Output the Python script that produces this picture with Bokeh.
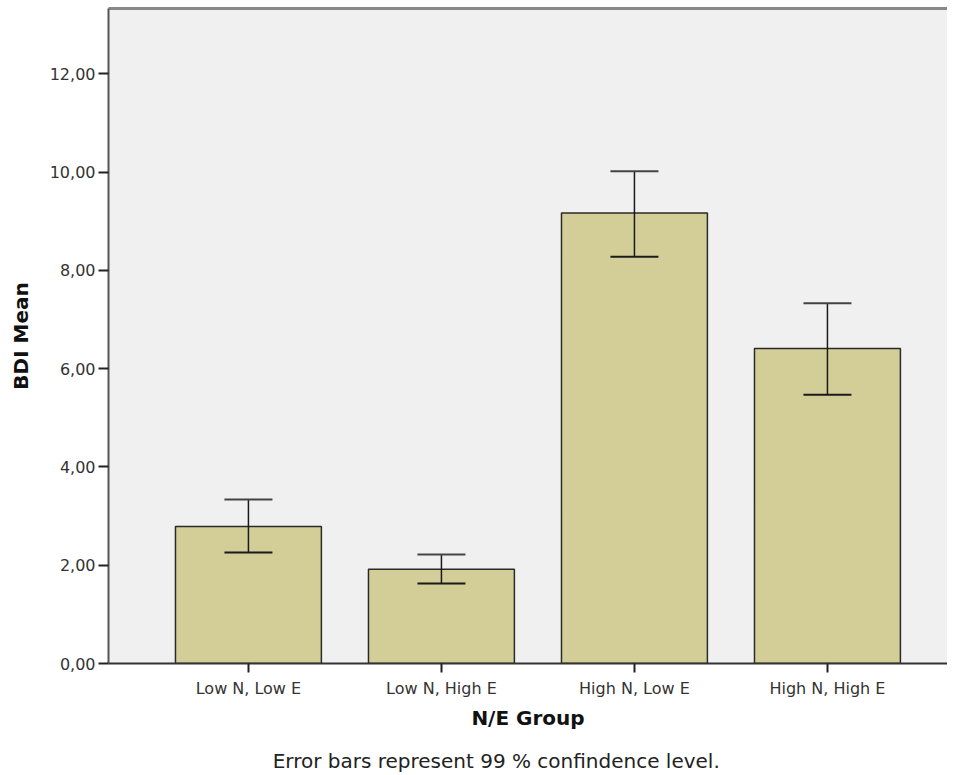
from bokeh.plotting import figure
from bokeh.models import (ColumnDataSource, Whisker, TeeHead, FixedTicker,
                          LinearAxis, Range1d)
from bokeh.embed import file_html
from bokeh.resources import INLINE

categories = ["Low N, Low E", "Low N, High E", "High N, Low E", "High N, High E"]
means = [2.79, 1.92, 9.17, 6.41]
upper = [3.34, 2.22, 10.02, 7.33]
lower = [2.26, 1.63, 8.28, 5.47]
y_ticks = [0, 2, 4, 6, 8, 10, 12]
footnote = "Error bars represent 99 % confindence level."

FONT = "DejaVu Sans"
xpos = list(range(len(categories)))

src = ColumnDataSource(dict(x=xpos, top=means, upper=upper, lower=lower))

p = figure(width=947, height=775, output_backend="svg", toolbar_location=None,
           x_range=Range1d(-0.725, 3.622), y_range=Range1d(0, 13.33),
           min_border_left=108, min_border_right=0, min_border_top=8,
           min_border_bottom=112)

p.background_fill_color = "#f0f0f0"
p.border_fill_color = "white"
p.outline_line_color = None
p.grid.visible = False

p.vbar(x="x", top="top", width=0.756, bottom=0, source=src,
       fill_color="#d3ce97", line_color="#2a2a2a", line_width=1.5)

w = Whisker(base="x", upper="upper", lower="lower", source=src,
            line_color="#1a1a1a", line_width=1.5, level="overlay",
            upper_head=TeeHead(size=48, line_color="#444444", line_width=2),
            lower_head=TeeHead(size=48, line_color="#1a1a1a", line_width=2))
p.add_layout(w)

# y axis
ya = p.yaxis[0]
ya.ticker = FixedTicker(ticks=y_ticks)
ya.major_label_overrides = {t: f"{t},00" for t in y_ticks}
ya.axis_label = "BDI Mean"
ya.axis_label_text_font = FONT
ya.axis_label_text_font_style = "bold"
ya.axis_label_text_font_size = "20px"
ya.axis_label_text_color = "#111111"
ya.axis_label_standoff = 14
ya.major_label_text_font = FONT
ya.major_label_text_font_size = "16px"
ya.major_label_text_color = "#333333"
ya.major_label_standoff = 3
ya.axis_line_color = "#555555"
ya.axis_line_width = 2
ya.major_tick_line_color = "#222222"
ya.major_tick_line_width = 2
ya.major_tick_out = 10
ya.major_tick_in = 0
ya.minor_tick_line_color = None

# x axis
xa = p.xaxis[0]
xa.ticker = FixedTicker(ticks=xpos)
xa.major_label_overrides = {i: c for i, c in zip(xpos, categories)}
xa.axis_label = "N/E Group"
xa.axis_label_text_font = FONT
xa.axis_label_text_font_style = "bold"
xa.axis_label_text_font_size = "20px"
xa.axis_label_text_color = "#111111"
xa.axis_label_standoff = 5
xa.major_label_text_font = FONT
xa.major_label_text_font_size = "16px"
xa.major_label_text_color = "#333333"
xa.major_label_standoff = 6
xa.axis_line_color = "#333333"
xa.axis_line_width = 2
xa.major_tick_line_color = "#222222"
xa.major_tick_line_width = 2
xa.major_tick_out = 9
xa.major_tick_in = 0
xa.minor_tick_line_color = None

# top frame line
top = LinearAxis(ticker=FixedTicker(ticks=[]), major_tick_line_color=None,
                 minor_tick_line_color=None, axis_line_color="#888888",
                 axis_line_width=3)
p.add_layout(top, "above")

# footnote as the label of an empty second bottom axis
fa = LinearAxis(ticker=FixedTicker(ticks=[]), axis_line_color=None,
                major_tick_line_color=None, minor_tick_line_color=None,
                major_tick_out=0, major_tick_in=0, major_label_standoff=0,
                axis_label=footnote + "\u00a0" * 10, axis_label_standoff=16,
                axis_label_text_font=FONT, axis_label_text_font_size="20px",
                axis_label_text_font_style="normal",
                axis_label_text_color="#222222")
p.add_layout(fa, "below")

open("out.html", "w").write(file_html(p, INLINE))
